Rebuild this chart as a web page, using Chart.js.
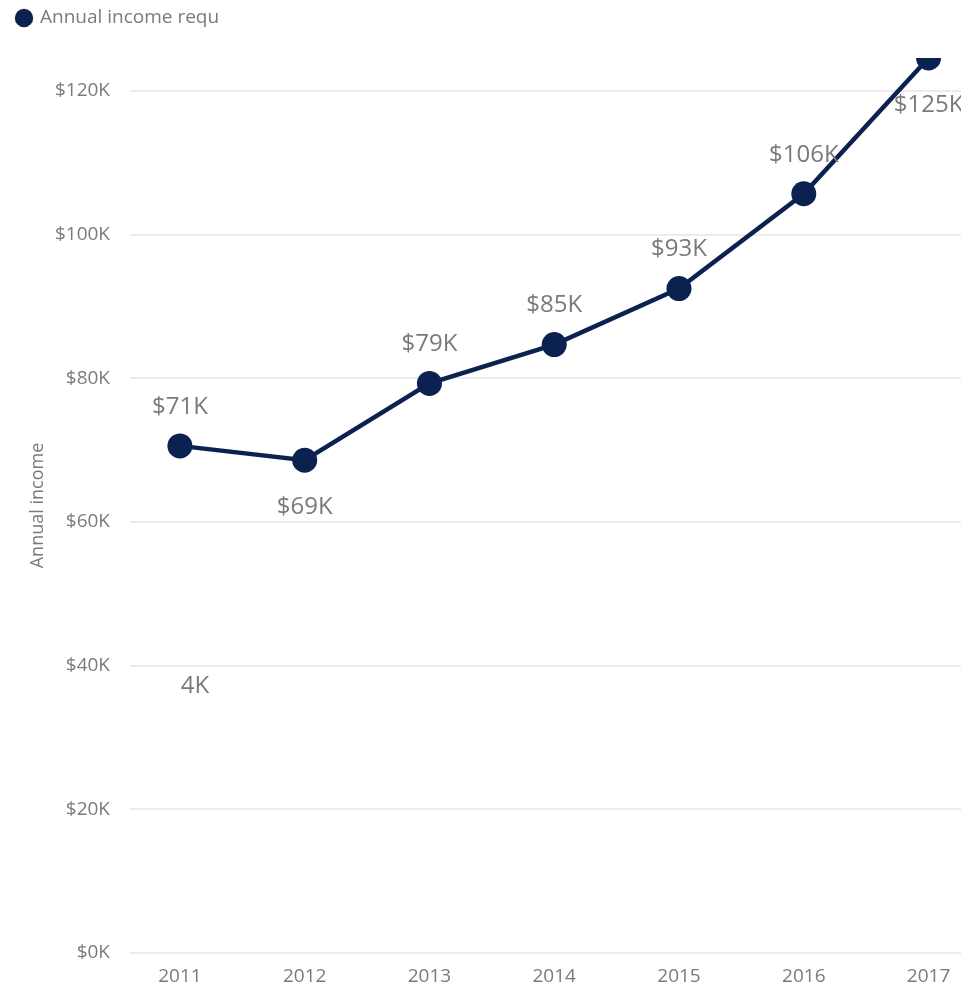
<!DOCTYPE html>
<html>
<head>
<meta charset="utf-8">
<title>Annual income required</title>
<script src="https://cdn.jsdelivr.net/npm/chart.js@4/dist/chart.umd.min.js"></script>
<style>
  html, body { margin: 0; padding: 0; background: #fff; overflow: hidden; }
  canvas { display: block; }
</style>
</head>
<body>
<canvas id="incomeChart" width="961" height="986"></canvas>
<script>
'use strict';

/* ---- DATA ------------------------------------------------- */
const years = [2011, 2012, 2013, 2014, 2015, 2016, 2017];
const incomeK = [70.6, 68.6, 79.3, 84.7, 92.5, 105.7, 124.6];   // $K
const yTicks = [0, 20, 40, 60, 80, 100, 120];
const seriesName = 'Annual income required';
const legendText = 'Annual income requ';
const axisTitle = 'Annual income';
const strayLabel = { x: 2011.12, y: 37.2, text: '4K' };

const NAVY = '#0b2251';
const GREY = '#7a7a7a';
const FONT = '"Open Sans", "Noto Sans", sans-serif';

/* ---- value labels next to each point ---------------------- */
const valueLabels = {
  id: 'valueLabels',
  afterDatasetsDraw(chart) {
    const { ctx } = chart;
    const meta = chart.getDatasetMeta(0);
    const last = meta.data.length - 1;
    ctx.save();
    ctx.font = '24px ' + FONT;
    ctx.fillStyle = GREY;
    ctx.textAlign = 'center';
    ctx.textBaseline = 'middle';
    meta.data.forEach((pt, i) => {
      const v = incomeK[i];
      // below when the point dips or sits on the top edge
      const below = i === last || (i > 0 && v < incomeK[i - 1]);
      ctx.fillText('$' + Math.round(v) + 'K', pt.x, pt.y + (below ? 47 : -39));
    });
    const xs = chart.scales.x, ys = chart.scales.y;
    ctx.fillText(strayLabel.text, xs.getPixelForValue(strayLabel.x), ys.getPixelForValue(strayLabel.y));
    ctx.restore();
  }
};

const ctx = document.getElementById('incomeChart');

new Chart(ctx, {
  type: 'line',
  data: {
    datasets: [{
      label: seriesName,
      data: years.map((y, i) => ({ x: y, y: incomeK[i] })),
      borderColor: NAVY,
      backgroundColor: NAVY,
      borderWidth: 4.5,
      pointRadius: 12.5,
      pointHoverRadius: 12.5,
      pointBorderWidth: 0,
      tension: 0
    }]
  },
  options: {
    responsive: false,
    animation: false,
    layout: { autoPadding: false, padding: { left: 9, right: 0, top: 0, bottom: 0 } },
    plugins: {
      legend: {
        position: 'top',
        align: 'start',
        labels: {
          usePointStyle: true,
          pointStyle: 'circle',
          boxWidth: 13,
          boxHeight: 13,
          padding: 8.5,
          color: GREY,
          font: { family: FONT, size: 19 },
          generateLabels: () => [{
            text: legendText,
            fillStyle: NAVY,
            strokeStyle: NAVY,
            fontColor: GREY,
            lineWidth: 0,
            pointStyle: 'circle',
            datasetIndex: 0
          }]
        }
      },
      // empty spacer under the legend
      subtitle: {
        display: true,
        text: '',
        weight: 500,
        font: { size: 12, lineHeight: 1 },
        padding: { top: 8.5, bottom: 0 }
      },
      tooltip: { enabled: false }
    },
    scales: {
      x: {
        type: 'linear',
        min: 2010.6,
        max: 2017.26,
        grid: { display: false, drawTicks: false },
        border: { display: false },
        afterBuildTicks: (scale) => { scale.ticks = years.map(v => ({ value: v })); },
        afterFit: (scale) => {
          scale.height = 33;
          scale.paddingLeft = 0;
          scale.paddingRight = 0;
        },
        ticks: {
          padding: 12,
          color: GREY,
          font: { family: FONT, size: 19 },
          maxRotation: 0,
          callback: (v) => String(v)
        }
      },
      y: {
        min: 0,
        max: Math.max(...incomeK),
        grid: { color: '#ececec', lineWidth: 2, drawTicks: false },
        border: { display: false },
        afterBuildTicks: (scale) => { scale.ticks = yTicks.map(v => ({ value: v })); },
        afterFit: (scale) => { scale.width = 121; },
        title: {
          display: true,
          text: axisTitle,
          color: GREY,
          font: { family: FONT, size: 18, lineHeight: 1.2 },
          padding: { top: 18.2, bottom: 0 }
        },
        ticks: {
          padding: 20,
          color: GREY,
          font: { family: FONT, size: 19 },
          callback: (v) => '$' + v + 'K'
        }
      }
    }
  },
  plugins: [valueLabels]
});
</script>
</body>
</html>
